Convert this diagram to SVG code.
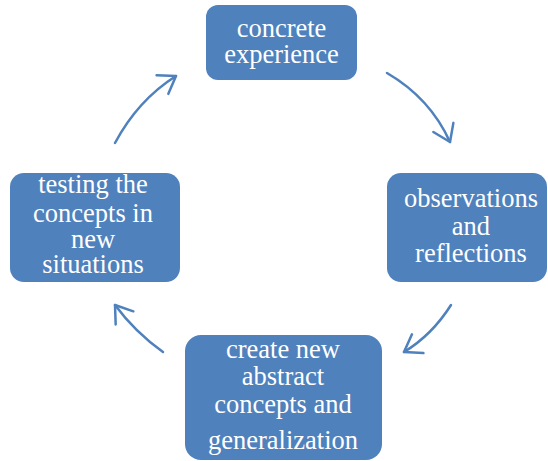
<svg xmlns="http://www.w3.org/2000/svg" width="548" height="461" viewBox="0 0 548 461">
<defs>
<style>
.box{fill:#4F81BD;}
.t{font-family:'Liberation Serif','DejaVu Serif',serif;font-size:26.5px;fill:#ffffff;text-anchor:middle;}
.c{fill:none;stroke:#4F81BD;stroke-width:2.5;stroke-linecap:round;}
</style>
<marker id="ah" markerUnits="userSpaceOnUse" markerWidth="30" markerHeight="30" refX="0" refY="0" viewBox="-22 -15 30 30" orient="auto" overflow="visible">
<path d="M-16,-11 L0,0 L-16,11" fill="none" stroke="#4F81BD" stroke-width="2.5" stroke-linecap="round" stroke-linejoin="round"/>
</marker>
</defs>
<rect width="548" height="461" fill="#ffffff"/>
<g id="connectors">
<path class="c" d="M387,73 Q430,98 450,142" marker-end="url(#ah)"/>
<path class="c" d="M451,305 Q432,335 404,352" marker-end="url(#ah)"/>
<path class="c" d="M163,352 Q135,332 115,305" marker-end="url(#ah)"/>
<path class="c" d="M115,143 Q138,100 176,76" marker-end="url(#ah)"/>
</g>
<g id="node-concrete">
<rect class="box" x="206" y="5" width="151" height="75" rx="12"/>
<text class="t" x="281.5" y="37">concrete</text>
<text class="t" x="281.5" y="63">experience</text>
</g>
<g id="node-observations">
<rect class="box" x="387" y="173" width="160" height="109" rx="14"/>
<text class="t" x="471" y="207">observations</text>
<text class="t" x="471" y="235">and</text>
<text class="t" x="471" y="262">reflections</text>
</g>
<g id="node-create">
<rect class="box" x="185" y="335" width="197" height="125" rx="16"/>
<text class="t" x="283" y="358">create new</text>
<text class="t" x="283" y="385">abstract</text>
<text class="t" x="283" y="413">concepts and</text>
<text class="t" x="283" y="449">generalization</text>
</g>
<g id="node-testing">
<rect class="box" x="10" y="173" width="170" height="109" rx="14"/>
<text class="t" x="93" y="193">testing the</text>
<text class="t" x="93" y="222">concepts in</text>
<text class="t" x="93" y="248">new</text>
<text class="t" x="93" y="273">situations</text>
</g>
</svg>
